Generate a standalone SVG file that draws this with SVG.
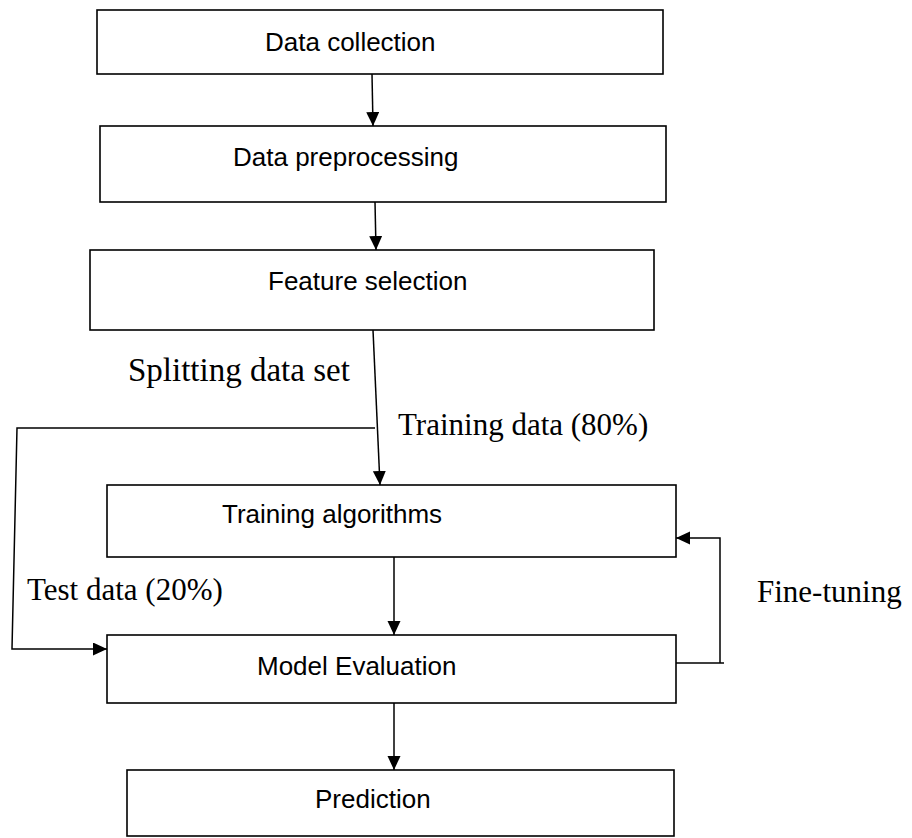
<svg xmlns="http://www.w3.org/2000/svg" width="912" height="838" viewBox="0 0 912 838">
<style>
.box{fill:#fff;stroke:#000;stroke-width:1.6}
.lbl{font-family:"Liberation Sans",Arial,sans-serif;font-size:26px;fill:#000}
.tl{font-family:"Liberation Serif","Times New Roman",serif;font-size:31px;fill:#000}
.con{fill:none;stroke:#000;stroke-width:1.5}
</style>
<defs>
<marker id="ah" markerUnits="userSpaceOnUse" markerWidth="15" markerHeight="14" refX="14" refY="6.5" orient="auto">
<path d="M0,0 L14,6.5 L0,13 z" fill="#000"/>
</marker>
</defs>
<rect width="912" height="838" fill="#fff"/>
<g id="n1"><rect class="box" x="97" y="10" width="566" height="64"/><text class="lbl" x="265" y="51">Data collection</text></g>
<g id="n2"><rect class="box" x="100" y="126" width="566" height="76"/><text class="lbl" x="233" y="166">Data preprocessing</text></g>
<g id="n3"><rect class="box" x="90" y="250" width="564" height="80"/><text class="lbl" x="268" y="290">Feature selection</text></g>
<g id="n4"><rect class="box" x="107" y="485" width="569" height="72"/><text class="lbl" x="222" y="523">Training algorithms</text></g>
<g id="n5"><rect class="box" x="107" y="635" width="569" height="68"/><text class="lbl" x="257" y="675">Model Evaluation</text></g>
<g id="n6"><rect class="box" x="127" y="770" width="547" height="66"/><text class="lbl" x="315" y="808">Prediction</text></g>
<g id="connectors">
<path class="con" d="M372,74 L373,126" marker-end="url(#ah)"/>
<path class="con" d="M375,202 L376,250" marker-end="url(#ah)"/>
<path class="con" d="M373,330 L380,485" marker-end="url(#ah)"/>
<path class="con" d="M375,428 L17,428 L12,649 L107,649" marker-end="url(#ah)"/>
<path class="con" d="M394,557 L394,635" marker-end="url(#ah)"/>
<path class="con" d="M394,703 L394,770" marker-end="url(#ah)"/>
<path class="con" d="M676,663 L724,663 M720,663 L720,538 L676,538" marker-end="url(#ah)"/>
</g>
<g id="labels">
<text class="tl" x="128" y="381" style="font-size:33px">Splitting data set</text>
<text class="tl" x="398" y="435">Training data (80%)</text>
<text class="tl" x="27" y="600">Test data (20%)</text>
<text class="tl" x="757" y="602">Fine-tuning</text>
</g>
</svg>
